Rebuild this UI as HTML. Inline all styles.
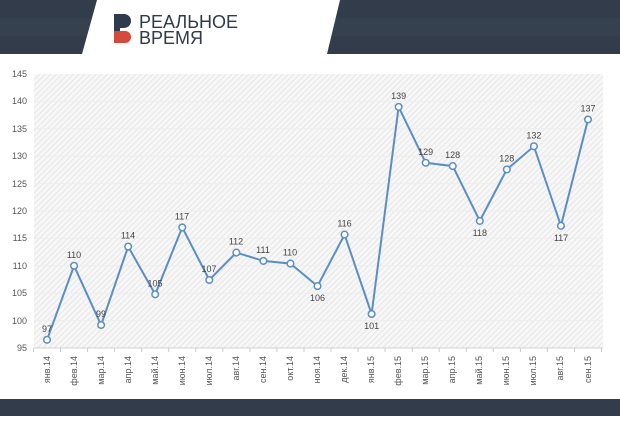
<!DOCTYPE html><html><head><meta charset="utf-8"><style>body{margin:0;width:620px;height:416px;overflow:hidden;background:#fff;font-family:"Liberation Sans",sans-serif}</style></head><body>
<svg width="620" height="416" xmlns="http://www.w3.org/2000/svg" font-family="Liberation Sans, sans-serif">
<defs><pattern id="h" width="4" height="4" patternUnits="userSpaceOnUse" patternTransform="rotate(45)"><rect width="4" height="4" fill="#f7f7f7"/><line x1="0" y1="0" x2="0" y2="4" stroke="#e2e2e2" stroke-width="1.5"/></pattern></defs>
<rect x="0" y="0" width="620" height="54" fill="#323c4b"/>
<rect x="0" y="18" width="620" height="18" fill="#36414f"/>
<polygon points="97,0 340,0 327,54 82,54" fill="#fff"/>
<path d="M114,14 h10 a7,7 0 0 1 0,14 h-4 v3 h-6z" fill="#2f3a4a"/>
<path d="M114,31 h12 a6,6 0 0 1 -2,12 h-10z" fill="#d24b3d"/>
<text x="139" y="28" font-size="18" fill="#2f3a4a">РЕАЛЬНОЕ</text>
<text x="139" y="44" font-size="18" fill="#2f3a4a">ВРЕМЯ</text>
<rect x="0" y="399" width="620" height="17" fill="#323c4b"/>
<rect x="34" y="74" width="569" height="274" fill="url(#h)"/>
<g stroke="#eeeeee" stroke-width="1">
<line x1="34" y1="101.4" x2="603" y2="101.4"/><line x1="34" y1="128.8" x2="603" y2="128.8"/><line x1="34" y1="156.2" x2="603" y2="156.2"/><line x1="34" y1="183.6" x2="603" y2="183.6"/><line x1="34" y1="211" x2="603" y2="211"/><line x1="34" y1="238.4" x2="603" y2="238.4"/><line x1="34" y1="265.8" x2="603" y2="265.8"/><line x1="34" y1="293.2" x2="603" y2="293.2"/><line x1="34" y1="320.6" x2="603" y2="320.6"/></g>
<line x1="34" y1="348" x2="603" y2="348" stroke="#d0d0d0"/>
<g font-size="9" fill="#555" text-anchor="end">
<text x="27" y="77">145</text><text x="27" y="104">140</text><text x="27" y="132">135</text><text x="27" y="159">130</text><text x="27" y="187">125</text><text x="27" y="214">120</text><text x="27" y="241">115</text><text x="27" y="269">110</text><text x="27" y="296">105</text><text x="27" y="324">100</text><text x="27" y="351">95</text></g>
<g stroke="#ccc">
<line x1="33.5" y1="348" x2="33.5" y2="352"/><line x1="60.5" y1="348" x2="60.5" y2="352"/><line x1="87.6" y1="348" x2="87.6" y2="352"/><line x1="114.6" y1="348" x2="114.6" y2="352"/><line x1="141.7" y1="348" x2="141.7" y2="352"/><line x1="168.7" y1="348" x2="168.7" y2="352"/><line x1="195.8" y1="348" x2="195.8" y2="352"/><line x1="222.8" y1="348" x2="222.8" y2="352"/><line x1="249.9" y1="348" x2="249.9" y2="352"/><line x1="276.9" y1="348" x2="276.9" y2="352"/><line x1="304" y1="348" x2="304" y2="352"/><line x1="331" y1="348" x2="331" y2="352"/><line x1="358.1" y1="348" x2="358.1" y2="352"/><line x1="385.1" y1="348" x2="385.1" y2="352"/><line x1="412.2" y1="348" x2="412.2" y2="352"/><line x1="439.2" y1="348" x2="439.2" y2="352"/><line x1="466.3" y1="348" x2="466.3" y2="352"/><line x1="493.3" y1="348" x2="493.3" y2="352"/><line x1="520.4" y1="348" x2="520.4" y2="352"/><line x1="547.4" y1="348" x2="547.4" y2="352"/><line x1="574.5" y1="348" x2="574.5" y2="352"/><line x1="601.5" y1="348" x2="601.5" y2="352"/></g>
<g font-size="9" fill="#555" text-anchor="end">
<text transform="translate(50,356) rotate(-90)">янв.14</text>
<text transform="translate(77,356) rotate(-90)">фев.14</text>
<text transform="translate(104,356) rotate(-90)">мар.14</text>
<text transform="translate(131,356) rotate(-90)">апр.14</text>
<text transform="translate(158,356) rotate(-90)">май.14</text>
<text transform="translate(185,356) rotate(-90)">июн.14</text>
<text transform="translate(212,356) rotate(-90)">июл.14</text>
<text transform="translate(239,356) rotate(-90)">авг.14</text>
<text transform="translate(266,356) rotate(-90)">сен.14</text>
<text transform="translate(293,356) rotate(-90)">окт.14</text>
<text transform="translate(320,356) rotate(-90)">ноя.14</text>
<text transform="translate(347,356) rotate(-90)">дек.14</text>
<text transform="translate(374,356) rotate(-90)">янв.15</text>
<text transform="translate(401,356) rotate(-90)">фев.15</text>
<text transform="translate(428,356) rotate(-90)">мар.15</text>
<text transform="translate(455,356) rotate(-90)">апр.15</text>
<text transform="translate(482,356) rotate(-90)">май.15</text>
<text transform="translate(509,356) rotate(-90)">июн.15</text>
<text transform="translate(536,356) rotate(-90)">июл.15</text>
<text transform="translate(563,356) rotate(-90)">авг.15</text>
<text transform="translate(591,356) rotate(-90)">сен.15</text>
</g>
<polyline fill="none" stroke="#5b8ec4" stroke-width="2" points="47,339.8 74.05,265.8 101.1,325 128.15,246.6 155.2,294.3 182.25,227.4 209.3,280 236.35,252.6 263.4,260.9 290.45,263.6 317.5,286.1 344.55,234.6 371.6,314 398.65,106.9 425.7,162.8 452.75,166.1 479.8,220.9 506.85,169.4 533.9,146.3 560.95,225.8 588,119.5"/>
<g fill="#fff" stroke="#5b8ec4" stroke-width="1.5">
<circle cx="47" cy="339.8" r="3.3"/><circle cx="74.05" cy="265.8" r="3.3"/><circle cx="101.1" cy="325" r="3.3"/><circle cx="128.15" cy="246.6" r="3.3"/><circle cx="155.2" cy="294.3" r="3.3"/><circle cx="182.25" cy="227.4" r="3.3"/><circle cx="209.3" cy="280" r="3.3"/><circle cx="236.35" cy="252.6" r="3.3"/><circle cx="263.4" cy="260.9" r="3.3"/><circle cx="290.45" cy="263.6" r="3.3"/><circle cx="317.5" cy="286.1" r="3.3"/><circle cx="344.55" cy="234.6" r="3.3"/><circle cx="371.6" cy="314" r="3.3"/><circle cx="398.65" cy="106.9" r="3.3"/><circle cx="425.7" cy="162.8" r="3.3"/><circle cx="452.75" cy="166.1" r="3.3"/><circle cx="479.8" cy="220.9" r="3.3"/><circle cx="506.85" cy="169.4" r="3.3"/><circle cx="533.9" cy="146.3" r="3.3"/><circle cx="560.95" cy="225.8" r="3.3"/><circle cx="588" cy="119.5" r="3.3"/></g>
<g font-size="9" fill="#444" text-anchor="middle">
<text x="47" y="331.8">97</text><text x="74" y="257.8">110</text><text x="101" y="317">99</text><text x="128" y="238.6">114</text><text x="155" y="286.3">105</text><text x="182" y="219.4">117</text><text x="209" y="272">107</text><text x="236" y="244.6">112</text><text x="263" y="252.9">111</text><text x="290" y="255.6">110</text><text x="317.5" y="301">106</text><text x="344.5" y="226.6">116</text><text x="371.6" y="329">101</text><text x="398.6" y="98.9">139</text><text x="425.7" y="154.8">129</text><text x="452.7" y="158.1">128</text><text x="479.8" y="236">118</text><text x="506.8" y="161.4">128</text><text x="533.9" y="138.3">132</text><text x="561" y="241">117</text><text x="588" y="111.5">137</text></g>
</svg></body></html>
